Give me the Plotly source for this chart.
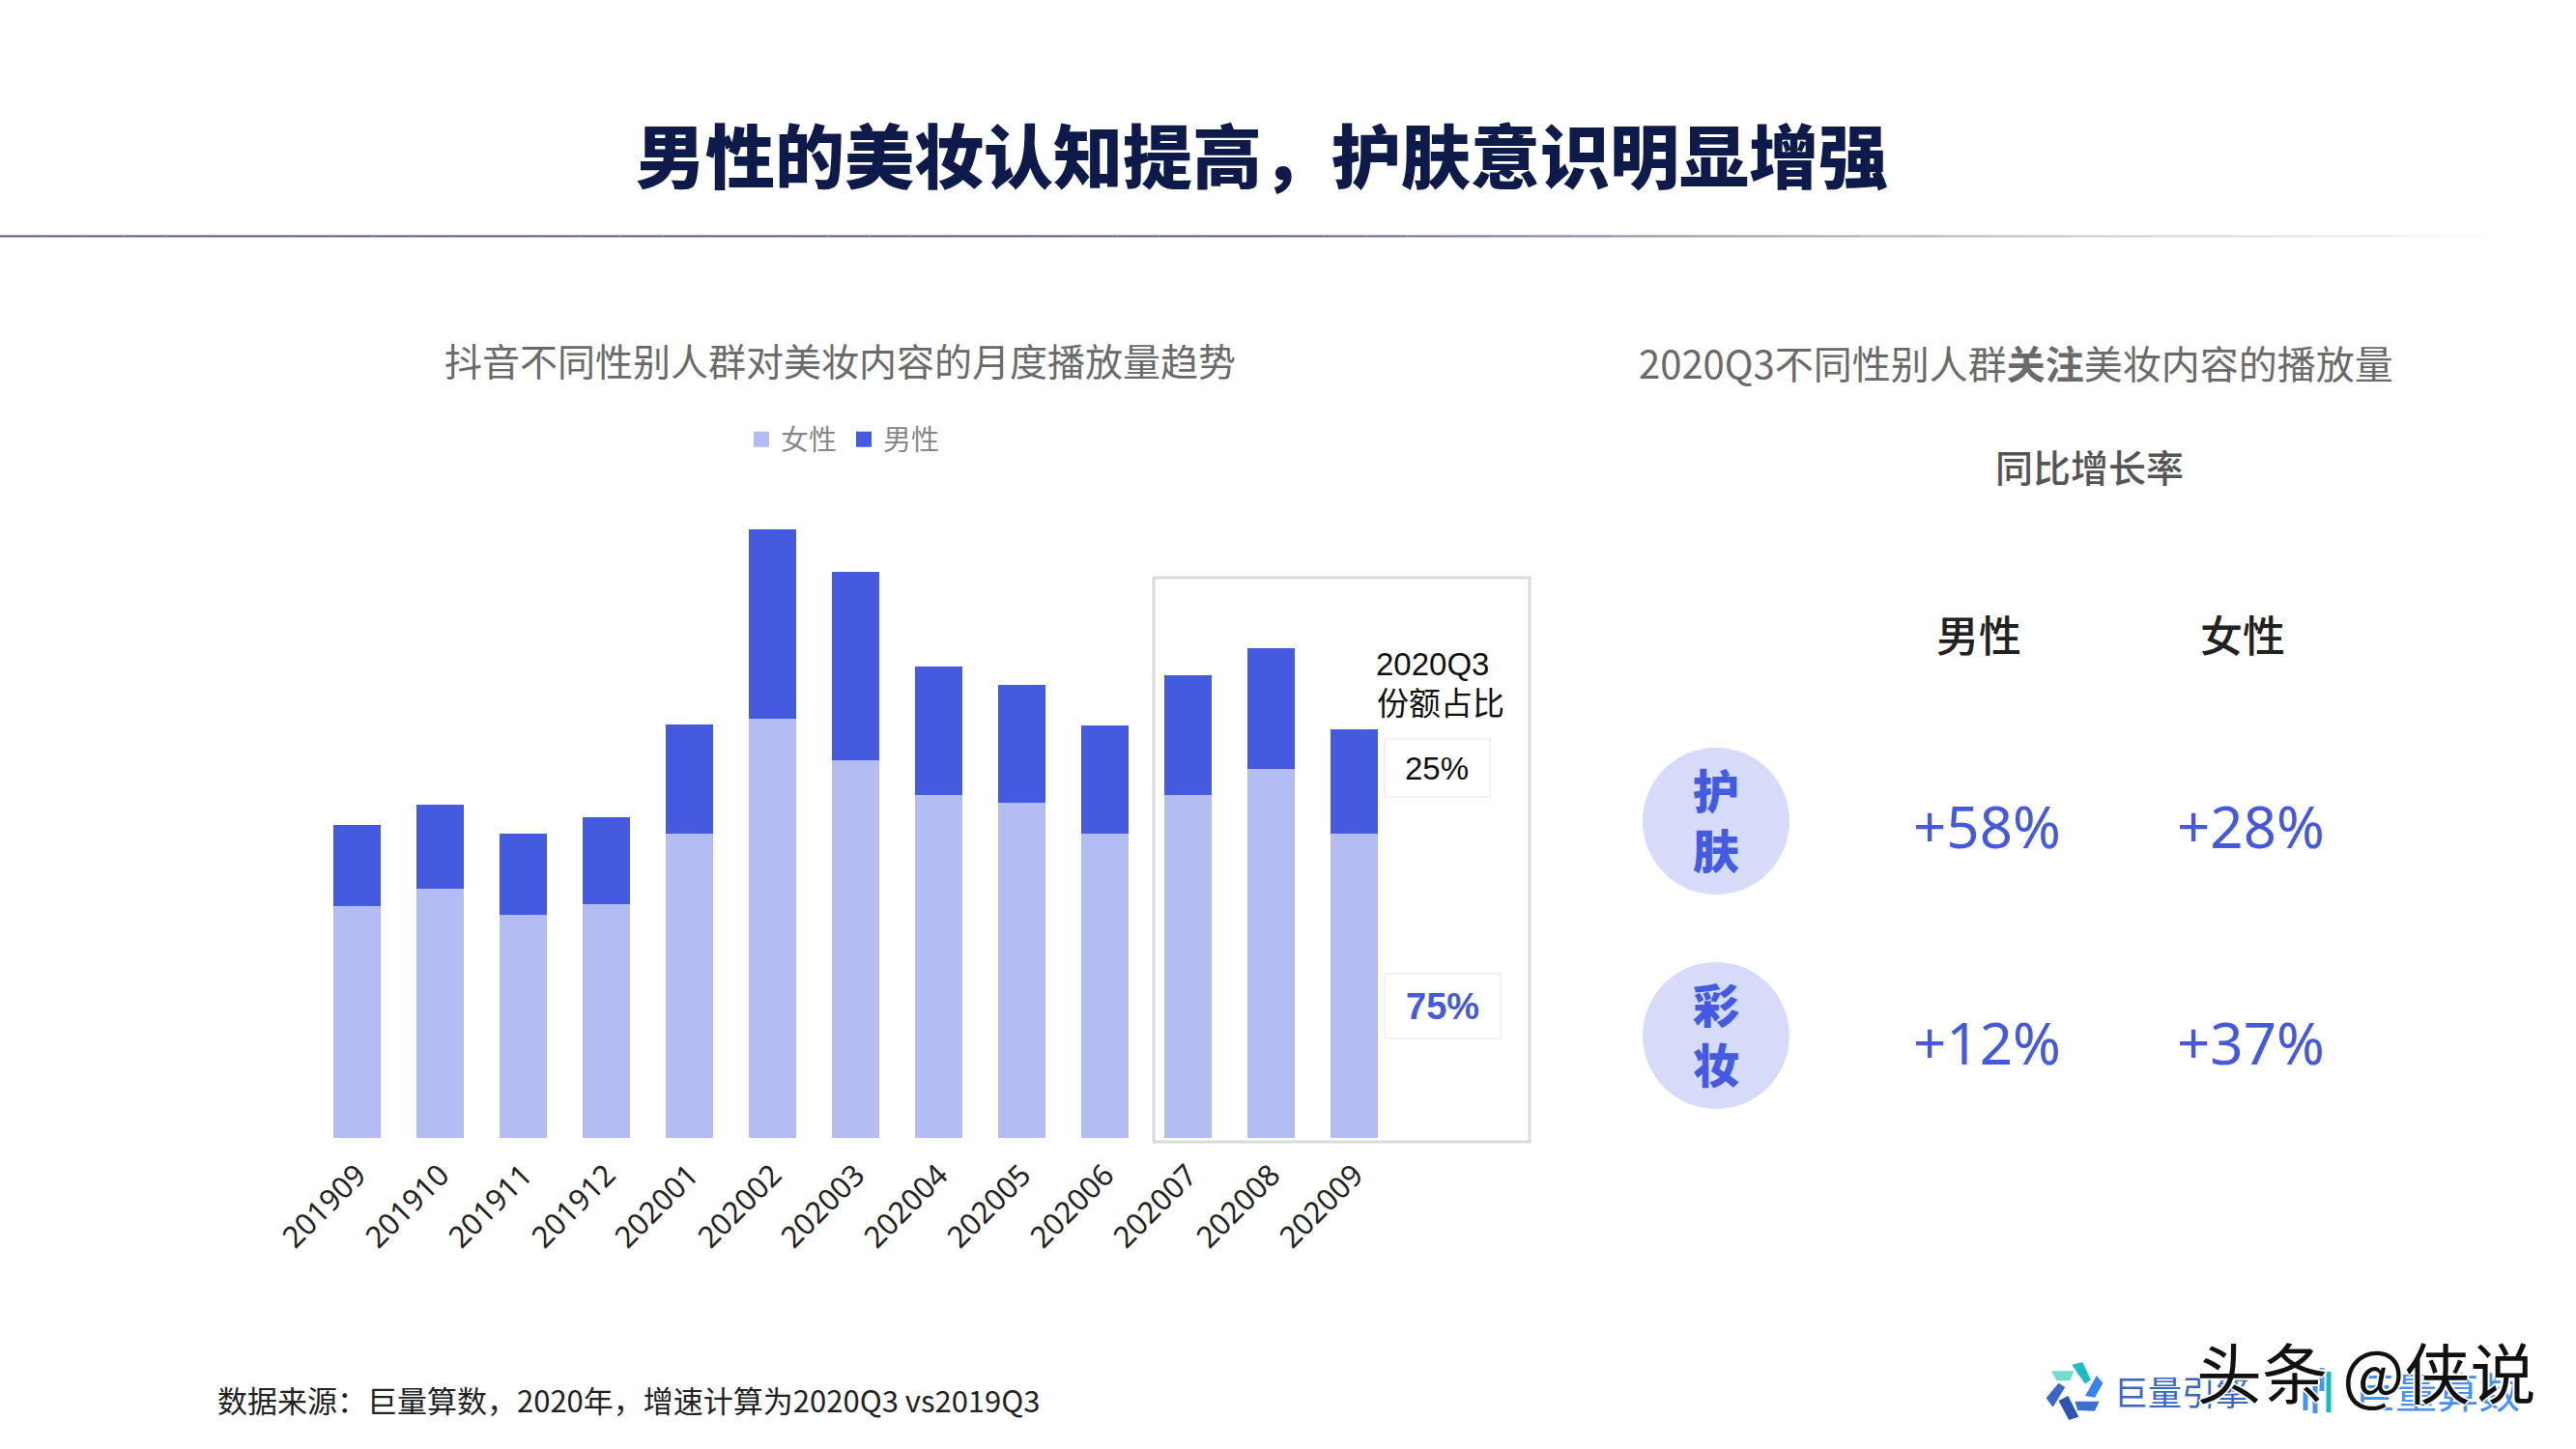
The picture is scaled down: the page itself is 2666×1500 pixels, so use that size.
import plotly.graph_objects as go

W, H = 2666, 1500
CJK = "Noto Sans CJK SC"
DARK = "#445be0"
LIGHT = "#b3bdf3"
BLUE_TXT = "#4659d8"

months = ["201909","201910","201911","201912","202001","202002","202003",
          "202004","202005","202006","202007","202008","202009"]
female = [141, 151.5, 136, 142.5, 185.5, 255, 230, 208.5, 204, 185.5, 209, 224.5, 185.5]
male = [49.5, 51.5, 49, 52.5, 66.5, 115.5, 114.5, 78.5, 72, 65.5, 72.5, 73.5, 63.5]
series_names = ["女性", "男性"]

title_text = "男性的美妆认知提高\uff0c护肤意识明显增强"
left_subtitle = "抖音不同性别人群对美妆内容的月度播放量趋势"
right_subtitle = "2020Q3不同性别人群<b>关注</b>美妆内容的播放量"
table_heading = "同比增长率"
columns = ["男性", "女性"]
rows = [("护", "肤"), ("彩", "妆")]
growth = [["+58%", "+28%"], ["+12%", "+37%"]]
share_labels = ["2020Q3", "份额占比", "25%", "75%"]
footnote = "数据来源\uff1a巨量算数\uff0c2020年\uff0c增速计算为2020Q3 vs2019Q3"


def px(x):
    return x / W


def py(y):
    return 1 - y / H


def rect(x0, y0, x1, y1, **kw):
    return dict(type="rect", xref="paper", yref="paper", x0=px(x0), x1=px(x1),
                y0=py(y0), y1=py(y1), **kw)


def poly(points, color):
    d = "M" + "L".join(f"{px(x):.5f},{py(y):.5f}" for x, y in points) + "Z"
    return dict(type="path", xref="paper", yref="paper", path=d,
                fillcolor=color, line=dict(width=0))


def text(s, x, y, size, color, family=CJK, weight=None, xanchor="center", shadow=None):
    font = dict(size=size, color=color, family=family)
    if weight:
        font["weight"] = weight
    if shadow:
        font["shadow"] = shadow
    return dict(text=s, x=px(x), y=py(y), xref="paper", yref="paper", showarrow=False,
                xanchor=xanchor, yanchor="middle", font=font)


fig = go.Figure()
fig.add_bar(x=months, y=female, marker_color=LIGHT, showlegend=False, name=series_names[0])
fig.add_bar(x=months, y=male, marker_color=DARK, showlegend=False, name=series_names[1])
fig.add_scatter(x=[None], y=[None], mode="markers", name=series_names[0],
                marker=dict(symbol="square", size=17, color=LIGHT))
fig.add_scatter(x=[None], y=[None], mode="markers", name=series_names[1],
                marker=dict(symbol="square", size=17, color=DARK))

shapes = []
# fading rule under the title
n = 60
for i in range(n):
    a = i * 2570 / n
    b = (i + 1) * 2570 / n
    t = max(0.0, (a - 1300) / 1270)
    c = [int(85 + (255 - 85) * t), int(90 + (255 - 90) * t), int(125 + (255 - 125) * t)]
    shapes.append(dict(type="line", xref="paper", yref="paper", x0=px(a), x1=px(b),
                       y0=py(244.5), y1=py(244.5), line=dict(color=f"rgb({c[0]},{c[1]},{c[2]})", width=2)))

# highlight box and share boxes
shapes.append(rect(1194, 598, 1583, 1182, line=dict(color="#d9dadd", width=3)))
shapes.append(rect(1433, 765, 1542, 825, line=dict(color="#f1f1f3", width=2)))
shapes.append(rect(1433, 1008, 1553, 1075, line=dict(color="#f1f1f3", width=2)))

# category circles
for cy in (850, 1072):
    shapes.append(dict(type="circle", xref="paper", yref="paper", x0=px(1700), x1=px(1852),
                       y0=py(cy + 76), y1=py(cy - 76), fillcolor="#d5dbf8", line=dict(width=0)))

# logo 1
lx = lambda v: 2050 + v / 2.545
ly = lambda v: 1360 + v / 3
logo = [
    ([(185, 178), (245, 178), (235, 208), (200, 208)], "#6fdcd0"),
    ([(240, 158), (268, 150), (290, 205), (275, 218)], "#1cbcc8"),
    ([(305, 192), (322, 215), (300, 260), (275, 255)], "#3a82ea"),
    ([(248, 272), (312, 272), (300, 302), (255, 300)], "#3a6fd0"),
    ([(205, 270), (230, 255), (258, 320), (232, 330)], "#2d55b0"),
    ([(172, 262), (205, 215), (222, 228), (190, 290)], "#3b66c8"),
]
for pts, col in logo:
    shapes.append(poly([(lx(a), ly(b)) for a, b in pts], col))

# logo 2 bars
for x0, y0, y1, col in [(2386, 1440, 1460, "#4a90f0"), (2396, 1432, 1463, "#4a90f0"),
                        (2403, 1416, 1440, "#4a90f0"), (2410, 1420, 1462, "#14bcc0")]:
    shapes.append(dict(type="line", xref="paper", yref="paper", x0=px(x0), x1=px(x0),
                       y0=py(y0), y1=py(y1), line=dict(color=col, width=5)))

ann = [
    text(title_text, 1306, 157, 72, "#0d1a4a", weight=900),
    text(left_subtitle, 869, 372, 39, "#6a6a6a"),
    text(right_subtitle, 2086, 375, 40, "#6a6a6a"),
    text(table_heading, 2162, 482, 39, "#555555", weight=500),
    text(share_labels[0], 1422, 687, 33, "#111111", family="Liberation Sans", xanchor="left"),
    text(share_labels[1], 1423, 726, 33, "#111111", xanchor="left"),
    text(share_labels[2], 1487, 795, 33, "#111111", family="Liberation Sans"),
    text(f"<b>{share_labels[3]}</b>", 1493, 1042, 38, BLUE_TXT, family="Liberation Sans"),
    text(columns[0], 2048, 656, 44, "#222222", weight=500),
    text(columns[1], 2321, 656, 44, "#222222", weight=500),
    text(footnote, 223, 1448, 31, "#222222", xanchor="left"),
    text("巨量引擎", 2258, 1439, 35, "#3a67c4"),
    text("巨量算数", 2522, 1439, 43, "#4a90f0"),
    text("头条 @侠说", 2449, 1418, 68, "#111111",
         shadow="-2px 0 0 #fff, 2px 0 0 #fff, 0 -2px 0 #fff, 0 2px 0 #fff"),
]
for (a, b), cy in zip(rows, (850, 1072)):
    ann.append(text(f"{a}<br>{b}", 1776, cy - 3, 48, DARK, weight=900))
for r, cy in enumerate((855, 1079)):
    for c, cx in enumerate((2056, 2329)):
        ann.append(text(growth[r][c], cx, cy, 60, BLUE_TXT, family="Noto Sans"))

plot_top = 500
plot_bottom = 1178
fig.update_layout(
    width=W, height=H, template="none", barmode="stack", bargap=0.427,
    margin=dict(l=0, r=0, t=0, b=0), paper_bgcolor="white", plot_bgcolor="white",
    font=dict(family=CJK),
    showlegend=True,
    legend=dict(orientation="h", x=px(768), y=py(455), xanchor="left", yanchor="middle",
                traceorder="normal",
                font=dict(size=29, color="#888888", family=CJK), bgcolor="rgba(0,0,0,0)",
                itemwidth=30, entrywidth=61, entrywidthmode="pixels"),
    xaxis=dict(domain=[px(326.8), px(1444.8)], range=[-0.5, 12.5], type="category",
               tickangle=-45, tickfont=dict(size=31, color="#222222", family="Noto Sans"),
               ticklabelstandoff=13,
               showgrid=False, zeroline=False, showline=False, ticks="", automargin=False),
    yaxis=dict(domain=[py(plot_bottom), py(plot_top)], range=[0, (plot_bottom - plot_top) / 1.7003],
               visible=False, automargin=False),
    shapes=shapes, annotations=ann,
)
fig.write_html("out.html", config=dict(displayModeBar=False),
               post_script="document.body.style.margin='0';document.documentElement.style.overflow='hidden';")
